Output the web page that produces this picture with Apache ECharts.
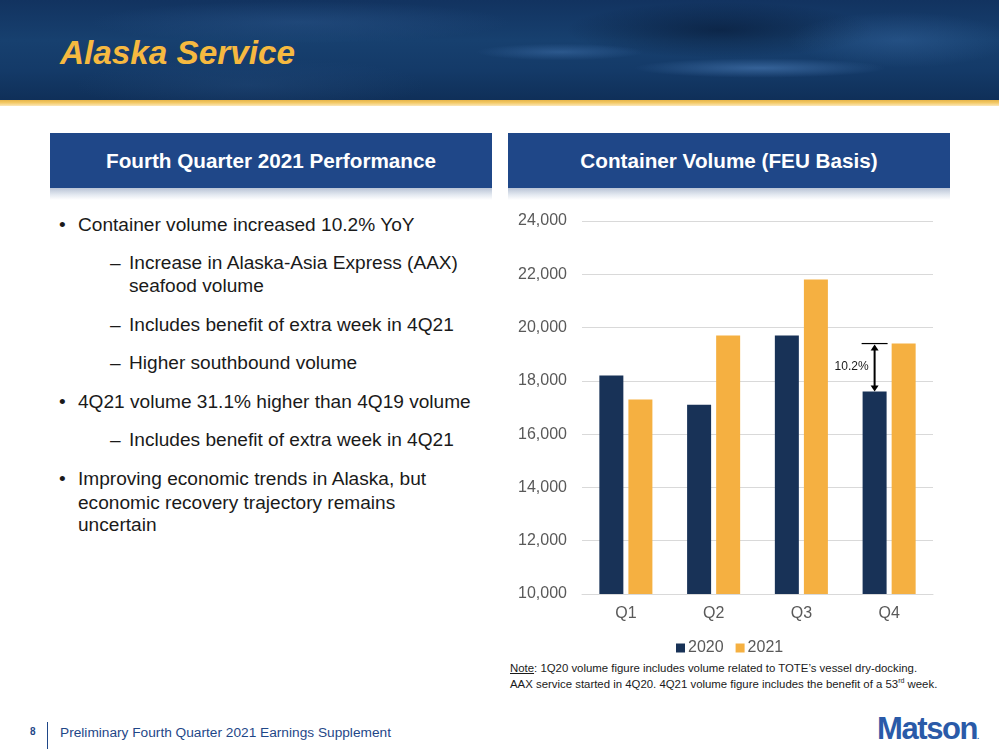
<!DOCTYPE html>
<html>
<head>
<meta charset="utf-8">
<script src="https://cdn.jsdelivr.net/npm/echarts@6/dist/echarts.min.js"></script>
<style>
html,body{margin:0;padding:0;width:999px;height:750px;overflow:hidden;background:#fff;font-family:"Liberation Sans",Arial,sans-serif;}
#banner{position:absolute;left:0;top:0;width:999px;height:101px;
background:
 radial-gradient(ellipse 180px 14px at 760px 68px, rgba(80,130,190,0.55), rgba(0,0,0,0) 70%),
 radial-gradient(ellipse 120px 12px at 560px 52px, rgba(70,120,180,0.45), rgba(0,0,0,0) 70%),
 radial-gradient(ellipse 160px 40px at 900px 40px, rgba(60,110,170,0.35), rgba(0,0,0,0) 70%),
 radial-gradient(ellipse 300px 30px at 300px 22px, rgba(50,95,150,0.35), rgba(0,0,0,0) 70%),
 radial-gradient(ellipse 220px 40px at 720px 30px, rgba(5,20,45,0.55), rgba(0,0,0,0) 70%),
 radial-gradient(ellipse 250px 40px at 250px 85px, rgba(40,80,130,0.35), rgba(0,0,0,0) 70%),
 linear-gradient(180deg,#123360 0%,#17406f 40%,#143a68 70%,#0f2f58 100%);}
#gold{position:absolute;left:0;top:100px;width:999px;height:6px;background:linear-gradient(180deg,#e6b449 0%,#f3c966 45%,#fbe7b8 100%);}
#title{position:absolute;left:60px;top:34px;font-size:33.3px;font-weight:bold;font-style:italic;color:#f6b940;}
.hbox{position:absolute;top:133px;width:442px;height:55px;background:#1f4788;color:#fff;font-weight:bold;font-size:20.7px;text-align:center;line-height:55px;}
.hshadow{position:absolute;top:188px;width:442px;height:12px;background:linear-gradient(180deg,#b9c4d6 0%,#e6ebf2 60%,#ffffff 100%);}
.t{position:absolute;font-size:19.1px;color:#1a1a1a;white-space:nowrap;}
#note{position:absolute;left:510px;top:661px;font-size:11.4px;color:#1a1a1a;line-height:15.5px;white-space:nowrap;}
#footnum{position:absolute;left:30px;top:726px;font-size:10px;font-weight:bold;color:#1f4788;}
#footline{position:absolute;left:47px;top:722px;width:1px;height:27px;background:#1f4788;}
#foottext{position:absolute;left:60px;top:725px;font-size:13.7px;color:#1f4788;}
#logo{position:absolute;left:877px;top:711px;font-size:31px;font-weight:bold;color:#2a5aa8;letter-spacing:-1.4px;}
#chart{position:absolute;left:500px;top:200px;width:450px;height:460px;}
</style>
</head>
<body>
<div id="banner"></div>
<div id="gold"></div>
<div id="title">Alaska Service</div>
<div class="hbox" style="left:50px;">Fourth Quarter 2021 Performance</div>
<div class="hshadow" style="left:50px;"></div>
<div class="hbox" style="left:508px;">Container Volume (FEU Basis)</div>
<div class="hshadow" style="left:508px;"></div>

<div class="t" style="left:59px;top:214px;">•</div>
<div class="t" style="left:78px;top:214px;">Container volume increased 10.2% YoY</div>
<div class="t" style="left:110px;top:252px;">–</div>
<div class="t" style="left:129px;top:252px;">Increase in Alaska-Asia Express (AAX)</div>
<div class="t" style="left:129px;top:275px;">seafood volume</div>
<div class="t" style="left:110px;top:314px;">–</div>
<div class="t" style="left:129px;top:314px;">Includes benefit of extra week in 4Q21</div>
<div class="t" style="left:110px;top:352px;">–</div>
<div class="t" style="left:129px;top:352px;">Higher southbound volume</div>
<div class="t" style="left:59px;top:391px;">•</div>
<div class="t" style="left:78px;top:391px;">4Q21 volume 31.1% higher than 4Q19 volume</div>
<div class="t" style="left:110px;top:429px;">–</div>
<div class="t" style="left:129px;top:429px;">Includes benefit of extra week in 4Q21</div>
<div class="t" style="left:59px;top:468px;">•</div>
<div class="t" style="left:78px;top:468px;">Improving economic trends in Alaska, but</div>
<div class="t" style="left:78px;top:492px;">economic recovery trajectory remains</div>
<div class="t" style="left:78px;top:514px;">uncertain</div>

<div id="chart"></div>

<div id="note"><span style="text-decoration:underline;">Note</span>: 1Q20 volume figure includes volume related to TOTE’s vessel dry-docking.<br>AAX service started in 4Q20. 4Q21 volume figure includes the benefit of a 53<sup style="font-size:7px;line-height:0;">rd</sup> week.</div>

<div id="footnum">8</div>
<div id="footline"></div>
<div id="foottext">Preliminary Fourth Quarter 2021 Earnings Supplement</div>
<div id="logo">Matson<span style="font-size:8px;letter-spacing:0;">.</span></div>

<script>
var categories = ['Q1', 'Q2', 'Q3', 'Q4'];
var seriesNames = ['2020', '2021'];
var values2020 = [18200, 17100, 19700, 17600];
var values2021 = [17300, 19700, 21800, 19400];
var annotationLabel = '10.2%';
var yTicks = [10000, 12000, 14000, 16000, 18000, 20000, 22000, 24000];

var chart = echarts.init(document.getElementById('chart'), null, {renderer: 'canvas'});
var fontFam = '"Liberation Sans", Arial, sans-serif';
chart.setOption({
  animation: false,
  textStyle: {fontFamily: fontFam},
  grid: {left: 82, right: 17, top: 21, bottom: 66},
  legend: {
    data: seriesNames,
    top: 435, left: 171,
    itemWidth: 9, itemHeight: 9, itemGap: 12,
    icon: 'rect',
    textStyle: {fontSize: 16, color: '#595959', fontFamily: fontFam, padding: [0,0,0,-2]}
  },
  xAxis: {
    type: 'category',
    data: categories,
    axisLine: {lineStyle: {color: '#d9d9d9'}},
    axisTick: {show: false},
    axisLabel: {fontSize: 16, color: '#595959', margin: 12}
  },
  yAxis: {
    type: 'value',
    min: yTicks[0], max: yTicks[yTicks.length - 1], interval: 2000,
    axisLine: {show: false},
    axisTick: {show: false},
    splitLine: {lineStyle: {color: '#d9d9d9'}},
    axisLabel: {fontSize: 16, color: '#595959', margin: 15,
      formatter: function (v) { return v.toLocaleString('en-US'); }}
  },
  series: [
    {name: seriesNames[0], type: 'bar', data: values2020, barWidth: 24, barGap: '21%',
     itemStyle: {color: '#183257'}},
    {name: seriesNames[1], type: 'bar', data: values2021, barWidth: 24, barGap: '21%',
     itemStyle: {color: '#f5b041'}}
  ]
});

// Annotation: arrow from Q4 2020 bar top to Q4 2021 value level
var lay = chart.getModel().getSeriesByIndex(0).getData().getItemLayout(3);
var cx = lay.x + lay.width / 2;
var yBottom = chart.convertToPixel({gridIndex: 0}, [3, values2020[3]])[1];
var yTop = chart.convertToPixel({gridIndex: 0}, [3, values2021[3]])[1];
var ah = 6, aw = 4;
chart.setOption({
  graphic: [
    {type: 'line', shape: {x1: cx - 13, y1: yTop, x2: cx + 13, y2: yTop}, style: {stroke: '#000', lineWidth: 1.2}},
    {type: 'line', shape: {x1: cx, y1: yTop + 3, x2: cx, y2: yBottom - 3}, style: {stroke: '#000', lineWidth: 2}},
    {type: 'polygon', shape: {points: [[cx, yTop + 1], [cx - aw, yTop + 1 + ah], [cx + aw, yTop + 1 + ah]]}, style: {fill: '#000'}},
    {type: 'polygon', shape: {points: [[cx, yBottom], [cx - aw, yBottom - ah], [cx + aw, yBottom - ah]]}, style: {fill: '#000'}},
    {type: 'text', x: cx - 6, y: (yTop + yBottom) / 2 - 1,
     style: {text: annotationLabel, fontSize: 12, fill: '#1a1a1a', align: 'right', verticalAlign: 'middle', fontFamily: fontFam}}
  ]
});
</script>
</body>
</html>
